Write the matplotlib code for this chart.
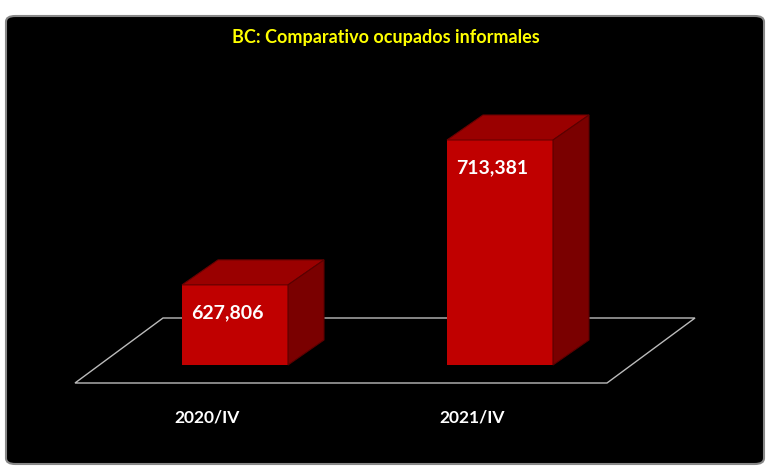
import matplotlib
matplotlib.use("Agg")
import matplotlib.pyplot as plt
from matplotlib.patches import Polygon, FancyBboxPatch

categories = ["2020/IV", "2021/IV"]
values = [627806, 713381]
labels = ["627,806", "713,381"]
title = "BC: Comparativo ocupados informales"

W, H = 772, 470
fig = plt.figure(figsize=(W/100, H/100), dpi=100)
fig.patch.set_facecolor("white")
bg = FancyBboxPatch((6/W, 6/H), 758/W, 448/H, boxstyle="round,pad=0,rounding_size=0.012",
                    transform=fig.transFigure, facecolor="black", edgecolor="#888888", lw=1.5, zorder=-10)
fig.patches.append(bg)

floor = [(75, 383), (607, 383), (695, 318), (163, 318)]
fig.patches.append(Polygon([(x/W, 1-y/H) for x, y in floor], closed=True, transform=fig.transFigure,
                           facecolor="none", edgecolor="#bbbbbb", lw=1, zorder=-9))

ax = fig.add_axes([100/W, 105/H, 540/W, 345/H])
ax.set_zorder(5)
ax.set_xlim(-135/265, 1+140/265)
ax.set_ylim(580500, 580500 + 345*132881/225)
ax.axis("off")
ax.patch.set_alpha(0)

xs = list(range(len(values)))
bw = 0.4
ax.bar(xs, [v-580500 for v in values], bottom=580500, width=bw, color="#C00000", zorder=3)
fig.canvas.draw()
dx, dy = 36, 25
for x, v, lab in zip(xs, values, labels):
    (x0, y0) = ax.transData.transform((x-bw/2, 580500))
    (x1, y1) = ax.transData.transform((x+bw/2, v))
    top = [(x0, y1), (x1, y1), (x1+dx, y1+dy), (x0+dx, y1+dy)]
    side = [(x1, y0), (x1+dx, y0+dy), (x1+dx, y1+dy), (x1, y1)]
    ax.add_patch(Polygon(top, closed=True, transform=None, facecolor="#9A0000", edgecolor="#6a0000", lw=0.8, zorder=4, clip_on=False))
    ax.add_patch(Polygon(side, closed=True, transform=None, facecolor="#7A0000", edgecolor="#5a0000", lw=0.8, zorder=4, clip_on=False))
    ax.annotate(lab, (x, v), xytext=(-8, -28), textcoords="offset pixels", ha="center", va="center",
                color="white", fontsize=14, fontweight="bold", family="Lato", zorder=5)
    ax.annotate(categories[x], (x, 580500), xytext=(-28, -53), textcoords="offset pixels", ha="center",
                va="center", color="white", fontsize=12.5, fontweight="bold", family="Lato",
                annotation_clip=False)

fig.text(386/W, 1-37/H, title, ha="center", va="center", color="#FFFF00", fontsize=13,
         fontweight="bold", family="Lato")
fig.savefig("out.png", dpi=100, facecolor="white")
